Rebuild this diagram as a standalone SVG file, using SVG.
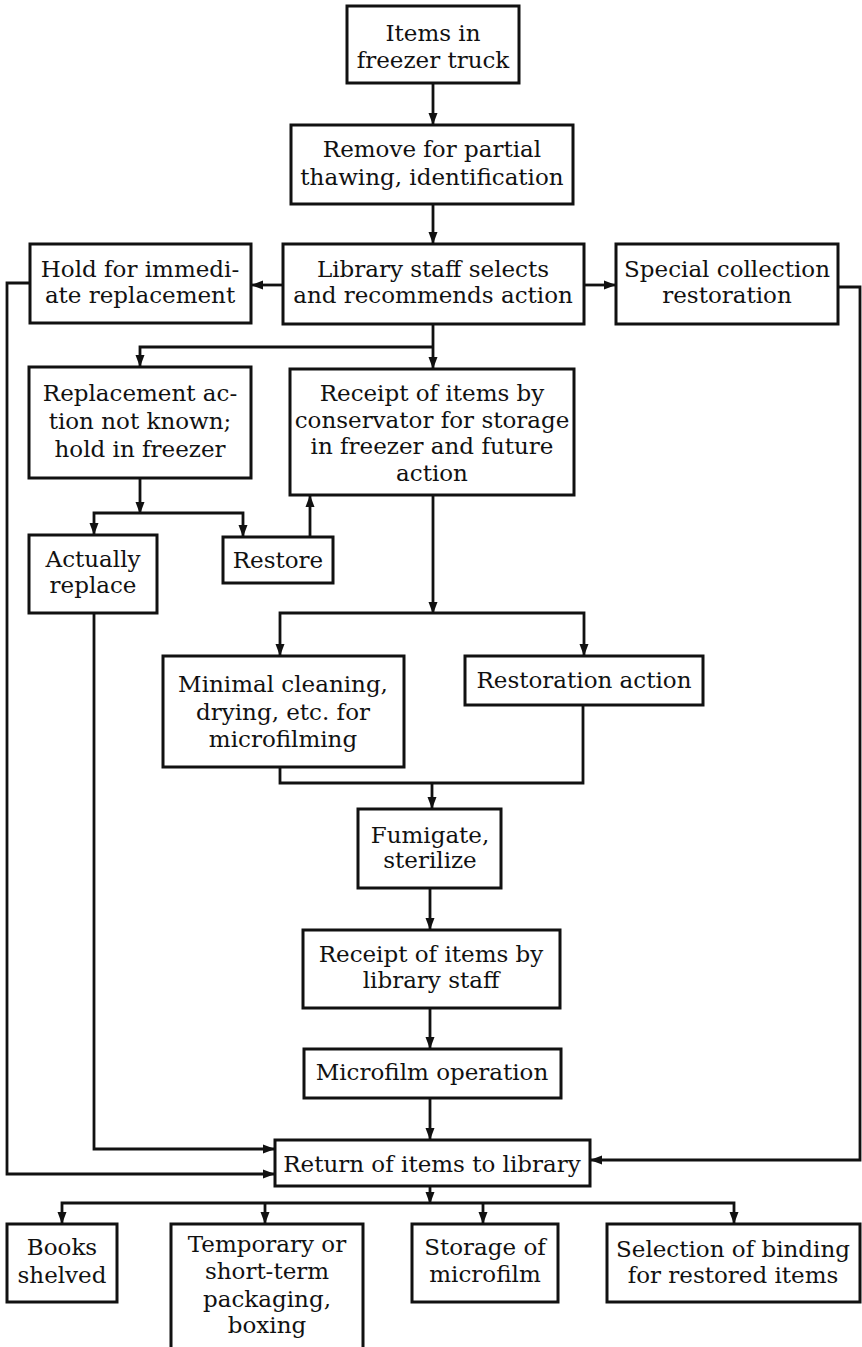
<svg xmlns="http://www.w3.org/2000/svg" width="862" height="1347" viewBox="0 0 862 1347">
<style>
.box{fill:#fff;stroke:#111;stroke-width:3}
.c{fill:none;stroke:#111;stroke-width:2.8}
text{font-family:"DejaVu Serif","Liberation Serif",serif;font-size:23px;fill:#111;text-anchor:middle}
</style>
<defs>
<marker id="a" markerUnits="userSpaceOnUse" markerWidth="12" markerHeight="10" refX="11" refY="5" orient="auto">
<path d="M0,0.5 L12,5 L0,9.5 z" fill="#111"/>
</marker>
</defs>
<rect width="862" height="1347" fill="#fff"/>
<g id="connectors">
<path class="c" d="M433,83 V124" marker-end="url(#a)"/>
<path class="c" d="M433,204 V243" marker-end="url(#a)"/>
<path class="c" d="M283,285 H252" marker-end="url(#a)"/>
<path class="c" d="M584,285 H615" marker-end="url(#a)"/>
<path class="c" d="M433,324 V368" marker-end="url(#a)"/>
<path class="c" d="M433,347 H140 V366" marker-end="url(#a)"/>
<path class="c" d="M140,478 V513" marker-end="url(#a)"/>
<path class="c" d="M140,513 H94 V534" marker-end="url(#a)"/>
<path class="c" d="M140,513 H243 V536" marker-end="url(#a)"/>
<path class="c" d="M310,537 V496" marker-end="url(#a)"/>
<path class="c" d="M433,495 V613" marker-end="url(#a)"/>
<path class="c" d="M433,613 H280 V655" marker-end="url(#a)"/>
<path class="c" d="M433,613 H584 V655" marker-end="url(#a)"/>
<path class="c" d="M280,767 V783 H583 V705"/>
<path class="c" d="M432,783 V808" marker-end="url(#a)"/>
<path class="c" d="M430,888 V929" marker-end="url(#a)"/>
<path class="c" d="M430,1008 V1048" marker-end="url(#a)"/>
<path class="c" d="M430,1098 V1139" marker-end="url(#a)"/>
<path class="c" d="M30,283 H7 V1174 H274" marker-end="url(#a)"/>
<path class="c" d="M94,613 V1149 H274" marker-end="url(#a)"/>
<path class="c" d="M838,287 H860 V1160 H591" marker-end="url(#a)"/>
<path class="c" d="M430,1186 V1203" marker-end="url(#a)"/>
<path class="c" d="M430,1203 H62 V1223" marker-end="url(#a)"/>
<path class="c" d="M430,1203 H734 V1223" marker-end="url(#a)"/>
<path class="c" d="M265,1203 V1223" marker-end="url(#a)"/>
<path class="c" d="M483,1203 V1223" marker-end="url(#a)"/>
</g>
<g id="n1"><rect class="box" x="347" y="6" width="172" height="77"/><text x="433" y="41">Items in</text><text x="433" y="68">freezer truck</text></g>
<g id="n2"><rect class="box" x="291" y="125" width="282" height="79"/><text x="432" y="157">Remove for partial</text><text x="432" y="185">thawing, identification</text></g>
<g id="n3"><rect class="box" x="283" y="244" width="301" height="80"/><text x="433" y="277">Library staff selects</text><text x="433" y="303">and recommends action</text></g>
<g id="n4"><rect class="box" x="30" y="244" width="221" height="79"/><text x="140" y="277">Hold for immedi-</text><text x="140" y="303">ate replacement</text></g>
<g id="n5"><rect class="box" x="616" y="244" width="222" height="80"/><text x="727" y="277">Special collection</text><text x="727" y="303">restoration</text></g>
<g id="n6"><rect class="box" x="29" y="367" width="222" height="111"/><text x="140" y="401">Replacement ac-</text><text x="140" y="429">tion not known;</text><text x="140" y="457">hold in freezer</text></g>
<g id="n7"><rect class="box" x="290" y="369" width="284" height="126"/><text x="432" y="401">Receipt of items by</text><text x="432" y="428">conservator for storage</text><text x="432" y="454">in freezer and future</text><text x="432" y="481">action</text></g>
<g id="n8"><rect class="box" x="29" y="535" width="128" height="78"/><text x="93" y="567">Actually</text><text x="93" y="593">replace</text></g>
<g id="n9"><rect class="box" x="223" y="537" width="110" height="46"/><text x="278" y="568">Restore</text></g>
<g id="n10"><rect class="box" x="163" y="656" width="241" height="111"/><text x="283" y="692">Minimal cleaning,</text><text x="283" y="720">drying, etc. for</text><text x="283" y="747">microfilming</text></g>
<g id="n11"><rect class="box" x="465" y="656" width="238" height="49"/><text x="584" y="688">Restoration action</text></g>
<g id="n12"><rect class="box" x="358" y="809" width="143" height="79"/><text x="430" y="843">Fumigate,</text><text x="430" y="868">sterilize</text></g>
<g id="n13"><rect class="box" x="303" y="930" width="257" height="78"/><text x="431" y="962">Receipt of items by</text><text x="431" y="988">library staff</text></g>
<g id="n14"><rect class="box" x="304" y="1049" width="257" height="49"/><text x="432" y="1080">Microfilm operation</text></g>
<g id="n15"><rect class="box" x="275" y="1140" width="315" height="46"/><text x="432" y="1172">Return of items to library</text></g>
<g id="n16"><rect class="box" x="7" y="1224" width="110" height="78"/><text x="62" y="1255">Books</text><text x="62" y="1283">shelved</text></g>
<g id="n17"><path class="box" d="M171,1350 V1224 H363 V1350"/><text x="267" y="1252">Temporary or</text><text x="267" y="1279">short-term</text><text x="267" y="1307">packaging,</text><text x="267" y="1333">boxing</text></g>
<g id="n18"><rect class="box" x="412" y="1224" width="146" height="78"/><text x="485" y="1255">Storage of</text><text x="485" y="1282">microfilm</text></g>
<g id="n19"><rect class="box" x="607" y="1224" width="253" height="78"/><text x="733" y="1257">Selection of binding</text><text x="733" y="1283">for restored items</text></g>
</svg>
